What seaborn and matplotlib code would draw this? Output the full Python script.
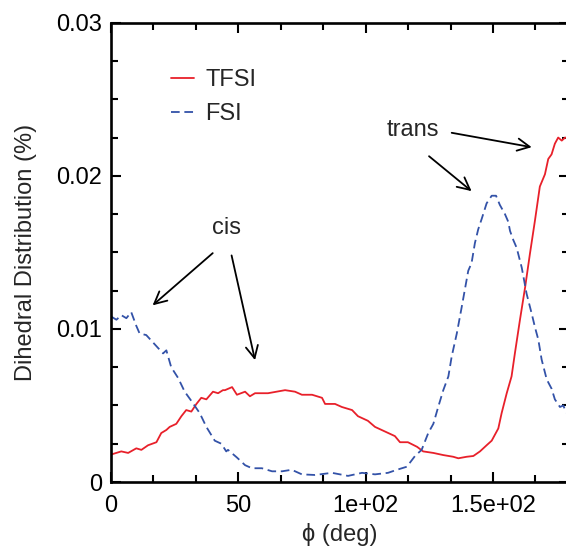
import numpy as np
import pandas as pd
import matplotlib
matplotlib.use("Agg")
import matplotlib.pyplot as plt
import seaborn as sns

# ---- data ----
tfsi_phi = [0.2, 4.1, 6.8, 10.0, 12.0, 14.6, 17.9, 19.8, 21.8, 23.1, 25.7, 27.7, 29.6, 31.6,
            33.6, 35.5, 37.5, 40.1, 42.1, 44.0, 44.8, 47.6, 49.5, 52.7, 54.6, 56.6, 61.7,
            68.4, 72.3, 75.0, 79.0, 82.9, 84.1, 88.0, 90.7, 94.7, 97.0, 100.9, 103.7, 107.6,
            111.5, 113.5, 116.6, 120.2, 122.6, 126.6, 130.5, 134.4, 136.4, 139.7, 142.3,
            144.9, 147.5, 149.5, 152.1, 153.4, 155.4, 157.3, 158.6, 160.6, 162.6, 164.5,
            166.5, 168.4, 170.4, 171.7, 173.0, 174.3, 175.6, 177.0, 178.3, 180.0]
tfsi_val = [0.0018, 0.0020, 0.0019, 0.0022, 0.0021, 0.0024, 0.0026, 0.0032, 0.0034, 0.0036,
            0.0038, 0.0043, 0.0047, 0.0046, 0.0051, 0.0055, 0.0054, 0.0059, 0.0058, 0.0060,
            0.0060, 0.0062, 0.0057, 0.0059, 0.0056, 0.0058, 0.0058, 0.0060, 0.0059, 0.0057,
            0.0057, 0.0055, 0.0051, 0.0051, 0.0049, 0.0047, 0.0043, 0.0040, 0.0036, 0.0033,
            0.0030, 0.0026, 0.0026, 0.0023, 0.0020, 0.0019, 0.00176, 0.00165, 0.00155,
            0.00165, 0.0017, 0.0020, 0.0024, 0.0027, 0.0035, 0.0045, 0.0058, 0.0069, 0.0084,
            0.0106, 0.0127, 0.0149, 0.0171, 0.0193, 0.0201, 0.0211, 0.0214, 0.0221, 0.0225,
            0.0223, 0.0225, 0.0224]

fsi_phi = [0.2, 2.2, 4.1, 6.1, 8.0, 10.0, 11.3, 13.9, 17.2, 20.5, 21.8, 23.7, 26.4, 29.0,
           31.6, 34.9, 37.5, 40.8, 43.4, 45.3, 46.0, 49.5, 52.7, 55.4, 59.3, 63.3, 67.2,
           71.0, 75.0, 80.1, 86.8, 93.1, 98.6, 103.7, 108.8, 112.3, 116.2, 119.4, 122.0,
           124.6, 126.6, 128.5, 130.5, 132.5, 133.8, 135.8, 137.7, 140.3, 141.6, 142.9,
           144.2, 145.6, 147.5, 149.5, 151.2, 152.7, 154.7, 156.0, 156.7, 158.0, 159.3,
           161.3, 163.2, 165.2, 166.5, 167.8, 169.1, 171.1, 173.0, 174.3, 176.3, 177.6,
           178.6, 180.0]
fsi_val = [0.0108, 0.0106, 0.0109, 0.0107, 0.0111, 0.0102, 0.0097, 0.0096, 0.0090, 0.0084,
           0.0086, 0.0075, 0.0068, 0.0059, 0.0053, 0.0045, 0.0036, 0.0027, 0.0025, 0.0020,
           0.0021, 0.0016, 0.0011, 0.0009, 0.0009, 0.0007, 0.0007, 0.0008, 0.0005, 0.00046,
           0.0006, 0.0004, 0.0006, 0.0005, 0.0006, 0.0008, 0.0010, 0.0017, 0.0021, 0.0032,
           0.0038, 0.0049, 0.0060, 0.0069, 0.0082, 0.0097, 0.0114, 0.0138, 0.0143, 0.0156,
           0.0165, 0.0172, 0.0182, 0.0187, 0.0187, 0.0181, 0.0175, 0.0170, 0.0164, 0.0158,
           0.0153, 0.0140, 0.0123, 0.0110, 0.0101, 0.0093, 0.0080, 0.0067, 0.0061, 0.0054,
           0.0049, 0.0050, 0.0046, 0.0043]

series_names = ["TFSI", "FSI"]
x_ticks = [0, 50, 100, 150]
x_tick_labels = ["0", "50", "1e+02", "1.5e+02"]
y_ticks = [0, 0.01, 0.02, 0.03]
y_tick_labels = ["0", "0.01", "0.02", "0.03"]

df = pd.concat([
    pd.DataFrame({"phi": tfsi_phi, "dist": tfsi_val, "series": "TFSI"}),
    pd.DataFrame({"phi": fsi_phi, "dist": fsi_val, "series": "FSI"}),
], ignore_index=True)

# ---- style ----
sns.set_style("ticks")
plt.rcParams["font.family"] = ["Liberation Sans", "DejaVu Sans"]
FS = 17

fig = plt.figure(figsize=(5.66, 5.5), dpi=100)
ax = fig.add_axes([0.1958, 0.1236, 1.006 - 0.1958, 0.9587 - 0.1236])

red = "#e8202a"
blue = "#3352a8"
sns.lineplot(data=df, x="phi", y="dist", hue="series", hue_order=series_names,
             palette={"TFSI": red, "FSI": blue}, estimator=None, sort=True,
             legend=False, ax=ax, linewidth=1.3)
ax.lines[1].set_linestyle((0, (4.8, 2.6)))

ax.set_xlim(0, 180)
ax.set_ylim(0, 0.03)
ax.set_xticks(x_ticks, x_tick_labels)
ax.set_yticks(y_ticks, y_tick_labels)
ax.set_xticks(np.arange(0, 181, 50 / 3), minor=True)
ax.set_yticks(np.arange(0, 0.0301, 0.0025), minor=True)
ax.tick_params(which="both", direction="in", top=True, right=True, width=1.5,
               labelsize=FS, colors="black")
ax.tick_params(which="major", length=7.5)
ax.tick_params(which="minor", length=4.8)
ax.tick_params(axis="x", which="major", pad=9)
ax.tick_params(axis="y", which="major", pad=6)
for s in ax.spines.values():
    s.set_linewidth(1.9)
    s.set_color("black")

ax.set_xlabel("ϕ (deg)", fontsize=FS, labelpad=5)
ax.set_ylabel("Dihedral Distribution (%)", fontsize=FS, labelpad=14)

leg = ax.legend(handles=ax.lines[:2], labels=series_names, frameon=False, fontsize=FS,
                loc="upper left", bbox_to_anchor=(0.105, 0.925), handlelength=1.0,
                handletextpad=0.45, labelspacing=0.5, borderpad=0)

arrow_kw = dict(arrowstyle="->", lw=1.3, color="black", mutation_scale=22,
                shrinkA=0, shrinkB=0)
ax.text(45.6, 0.01657, "cis", fontsize=FS, ha="center", va="center")
ax.annotate("", xy=(16.4, 0.01154), xytext=(40.0, 0.01495), arrowprops=arrow_kw)
ax.annotate("", xy=(56.6, 0.00796), xytext=(47.4, 0.0148), arrowprops=arrow_kw)
ax.text(118.6, 0.02296, "trans", fontsize=FS, ha="center", va="center")
ax.annotate("", xy=(165.2, 0.02187), xytext=(133.8, 0.02281), arrowprops=arrow_kw)
ax.annotate("", xy=(141.6, 0.0190), xytext=(124.9, 0.02128), arrowprops=arrow_kw)

fig.savefig("out.png", dpi=100)
